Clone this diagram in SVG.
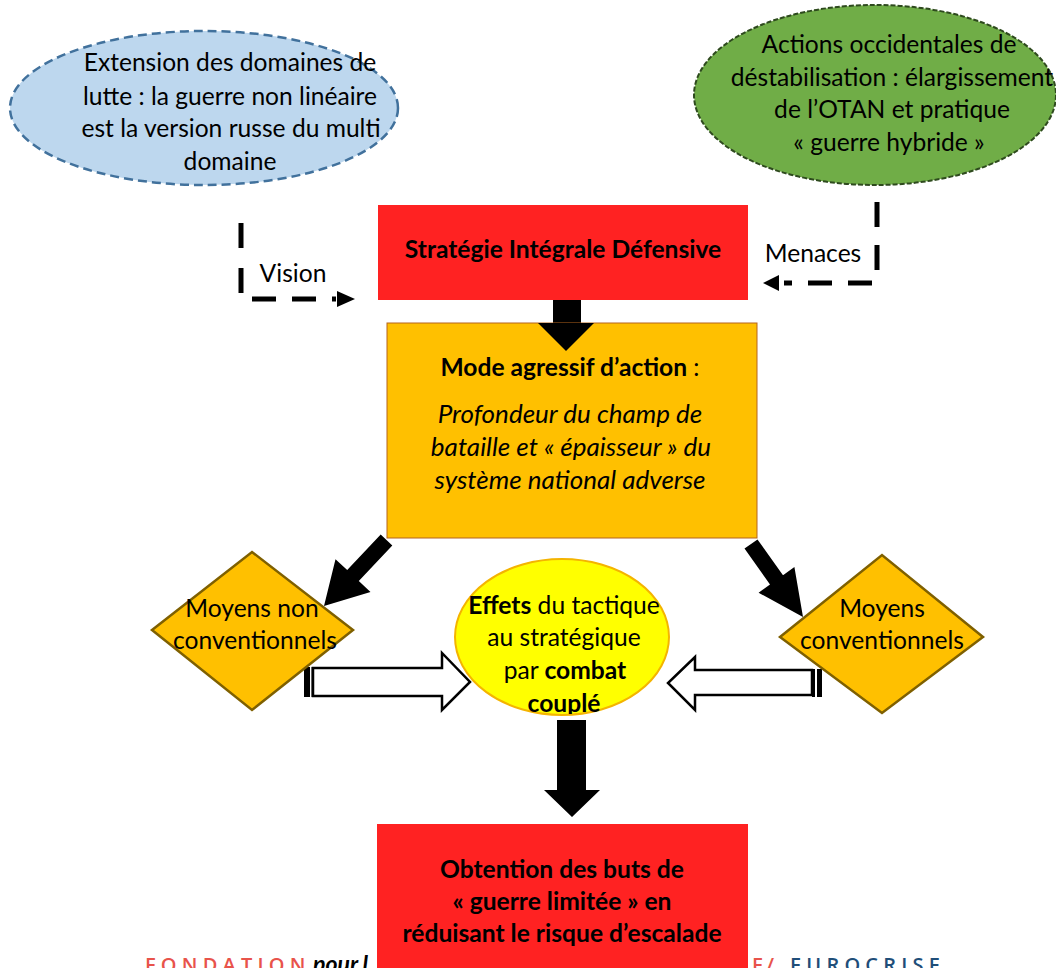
<svg xmlns="http://www.w3.org/2000/svg" width="1056" height="968" viewBox="0 0 1056 968">
<defs>
<style>
text{font-family:Lato,"Open Sans","Liberation Sans",sans-serif;fill:#000;}
.t{font-size:24.6px;text-anchor:middle;}
.b{font-weight:bold;}
.i{font-style:italic;font-size:26px;}
.ft{font-family:"Open Sans",Lato,sans-serif;font-size:20px;font-weight:600;letter-spacing:5.2px;}
.dash{fill:none;stroke:#000;stroke-width:5;stroke-dasharray:24 16;}
.blk{fill:#000;stroke:none;}
.hol{fill:#fff;stroke:#000;stroke-width:2.5;stroke-linejoin:miter;}
.dia{fill:#FFC000;stroke:#7F6000;stroke-width:2.5;}
.red{fill:#FF2222;}
</style>
<clipPath id="yc"><rect x="440" y="550" width="250" height="164"/></clipPath>
</defs>
<rect width="1056" height="968" fill="#fff"/>

<g id="footer">
<text x="145" y="972" class="ft" style="fill:#E8534B">FONDATION</text>
<text x="313" y="972" style="font-size:23px;font-weight:bold;font-style:italic">pour l</text>
<text x="752" y="972" class="ft" style="fill:#E8534B;letter-spacing:3px">E/</text>
<text x="790" y="972" class="ft" style="fill:#1F4E79">EUROCRISE</text>
</g>

<g id="connectors">
<path class="dash" d="M241,223 V296" style="stroke-dasharray:25 20"/>
<path class="dash" d="M252,299 H336"/>
<polygon class="blk" points="337,291 355,299 337,307"/>
<path class="dash" d="M877,202 V280" style="stroke-dasharray:25 18"/>
<path class="dash" d="M872,283 H784"/>
<polygon class="blk" points="779,275 763,283 779,291"/>
<polygon class="blk" points="553,300 581,300 581,325 594,325 566,351 538,325 553,325"/>
<polygon class="blk" points="380.7,534.5 347.2,570.1 335.5,559.2 324,606 370.5,592 358.8,581.1 392.3,545.5"/>
<polygon class="blk" points="744.5,548.6 770,584.5 758.6,592.7 803,617 794.4,567.1 783,575.3 757.5,539.4"/>
<polygon class="blk" points="557,720 586,720 586,790 600,790 572,817 544,790 557,790"/>
<polygon class="hol" points="313,668 442,668 442,653 470,682 442,710 442,696 313,696"/>
<rect x="304" y="667" width="6" height="30" class="blk"/>
<rect x="311.5" y="667" width="2.5" height="30" class="blk"/>
<polygon class="hol" points="812,670 695,670 695,657 668,683 695,710 695,695 812,695"/>
<rect x="812" y="669" width="3" height="28" class="blk"/>
<rect x="817" y="669" width="5" height="28" class="blk"/>
<text x="293" y="282" class="t">Vision</text>
<text x="813" y="262" class="t">Menaces</text>
</g>

<g id="n-extension">
<ellipse cx="204" cy="108" rx="194" ry="77" fill="#BDD7EE" stroke="#41719C" stroke-width="2.5" stroke-dasharray="9 5"/>
<text class="t" x="230" y="71">Extension des domaines de</text>
<text class="t" x="230" y="105">lutte : la guerre non linéaire</text>
<text class="t" x="231" y="137">est la version russe du multi</text>
<text class="t" x="230" y="170">domaine</text>
</g>

<g id="n-actions">
<ellipse cx="875" cy="95" rx="181" ry="90" fill="#70AD47" stroke="#2E4A1E" stroke-width="2" stroke-dasharray="5 2"/>
<text class="t" x="889" y="53">Actions occidentales de</text>
<text class="t" x="892" y="86">déstabilisation : élargissement</text>
<text class="t" x="892" y="118">de l’OTAN et pratique</text>
<text class="t" x="889" y="151">« guerre hybride »</text>
</g>

<g id="n-strategie">
<rect x="378" y="205" width="370" height="95" class="red"/>
<text class="t b" x="563" y="258">Stratégie Intégrale Défensive</text>
</g>

<g id="n-mode">
<rect x="387" y="323" width="370" height="215" fill="#FFC000" stroke="#B5651D" stroke-width="1"/>
<polygon class="blk" points="538,323 594,323 566,351"/>
<text class="t" x="570" y="376"><tspan class="b">Mode agressif d’action</tspan> :</text>
<text class="t i" x="570" y="423">Profondeur du champ de</text>
<text class="t i" x="571" y="456">bataille et « épaisseur » du</text>
<text class="t i" x="570" y="489">système national adverse</text>
</g>

<g id="n-nonconv">
<polygon class="dia" points="152,630 252,552 353,630 252,710"/>
<text class="t" x="252" y="617">Moyens non</text>
<text class="t" x="255" y="649">conventionnels</text>
</g>

<g id="n-conv">
<polygon class="dia" points="780,637 882,555 983,637 882,713"/>
<text class="t" x="882" y="617">Moyens</text>
<text class="t" x="882" y="649">conventionnels</text>
</g>

<g id="n-effets">
<ellipse cx="562" cy="637" rx="107" ry="78" fill="#FFFF00" stroke="#F4B400" stroke-width="2"/>
<g clip-path="url(#yc)">
<text class="t" x="564" y="614"><tspan class="b">Effets</tspan> du tactique</text>
<text class="t" x="564" y="646">au stratégique</text>
<text class="t" x="565" y="679">par <tspan class="b">combat</tspan></text>
<text class="t b" x="564" y="712">couplé</text>
</g>
</g>

<g id="n-obtention">
<rect x="377" y="824" width="371" height="150" class="red"/>
<text class="t b" x="562" y="878">Obtention des buts de</text>
<text class="t b" x="562" y="910">« guerre limitée » en</text>
<text class="t b" x="562" y="942">réduisant le risque d’escalade</text>
</g>
</svg>
